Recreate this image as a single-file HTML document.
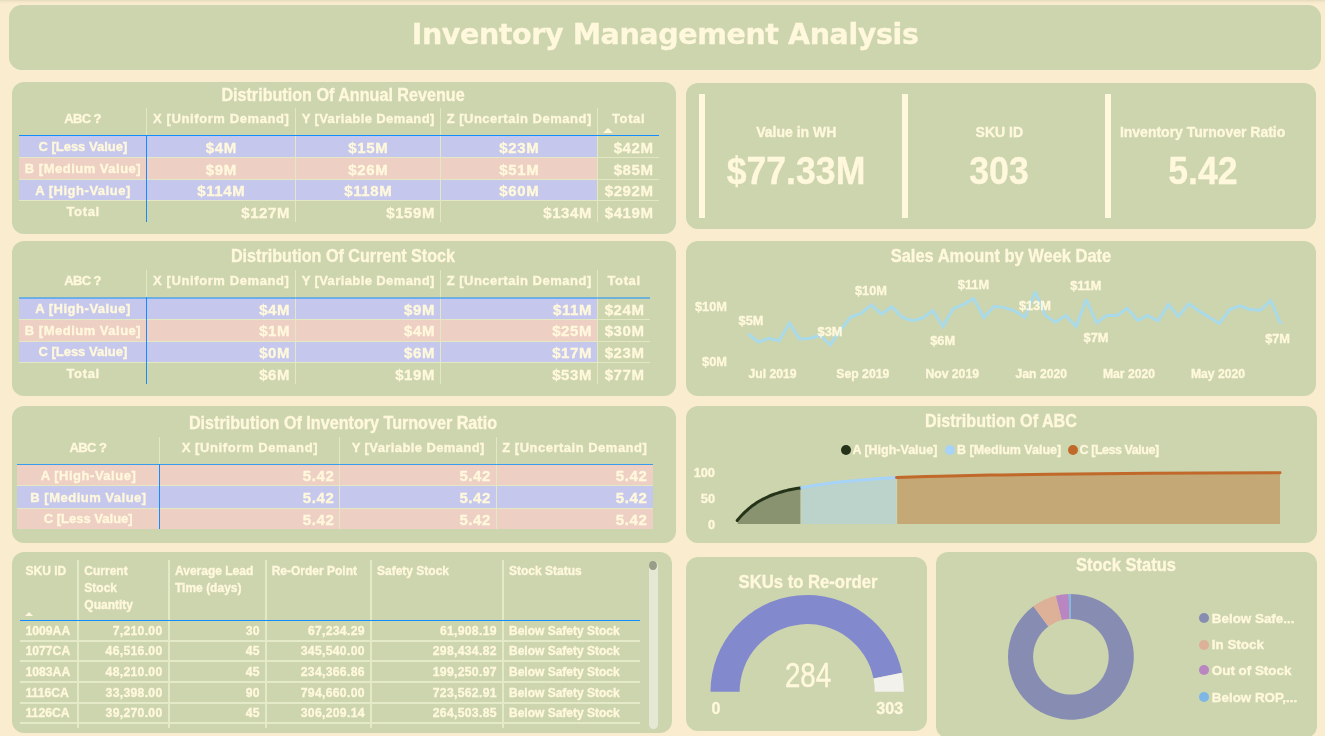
<!DOCTYPE html>
<html><head><meta charset="utf-8">
<style>
*{margin:0;padding:0;box-sizing:border-box}
html,body{width:1325px;height:736px;overflow:hidden;background:#FAEDCF}
body{position:relative;font-family:"Liberation Sans",Arial,sans-serif;color:#FFF8DC;font-weight:bold}
.p{position:absolute;background:#CDD5AE;border-radius:12px}
.ab{position:absolute}
.t{position:absolute;white-space:nowrap;line-height:1;-webkit-text-stroke:0.35px #FFF8DC}
svg{position:absolute;left:0;top:0;overflow:visible}
</style></head><body>

<div class="ab" style="left:0;top:0;width:1325px;height:4px;background:linear-gradient(#E8DEBF 0px,#E9DFC0 1px,#F1E5C5 1.5px,#F6E9CA 2.5px,#FAEDCF 4px)"></div>
<div class="p" style="left:9.2px;top:4.9px;width:1312px;height:64.8px;border-radius:12.5px"></div>
<div class="t" style="left:411.7px;top:20.6px;font-family:'DejaVu Sans',sans-serif;font-size:28.5px;letter-spacing:-0.39px">Inventory Management Analysis</div>
<div class="p" style="left:12px;top:82px;width:663.6px;height:151.6px"></div>
<div class="p" style="left:12px;top:241px;width:663.5px;height:154.8px"></div>
<div class="p" style="left:12px;top:406px;width:663.5px;height:137px"></div>
<div class="p" style="left:12px;top:552.3px;width:660.2px;height:181px"></div>
<div class="p" style="left:685.5px;top:83.3px;width:630.5px;height:146.2px"></div>
<div class="p" style="left:685.5px;top:241.3px;width:630.5px;height:154.5px"></div>
<div class="p" style="left:685.5px;top:406px;width:631.4px;height:137px"></div>
<div class="p" style="left:685.7px;top:556.7px;width:241.1px;height:174.8px"></div>
<div class="p" style="left:936px;top:552.3px;width:381.4px;height:185.3px"></div>
<div class="t" style="left:143.2px;width:400px;text-align:center;top:86.5px;font-size:17.5px;transform:scaleX(0.922)">Distribution Of Annual Revenue</div>
<div class="ab" style="left:146.00px;top:108.00px;width:1.00px;height:27.00px;background:#E3E7C2;"></div>
<div class="ab" style="left:295.00px;top:108.00px;width:1.00px;height:27.00px;background:#E3E7C2;"></div>
<div class="ab" style="left:440.00px;top:108.00px;width:1.00px;height:27.00px;background:#E3E7C2;"></div>
<div class="ab" style="left:597.00px;top:108.00px;width:1.00px;height:27.00px;background:#E3E7C2;"></div>
<div class="ab" style="left:19.00px;top:136.00px;width:578.50px;height:21.00px;background:#C5C8EC;"></div>
<div class="ab" style="left:19.00px;top:157.00px;width:578.50px;height:22.50px;background:#EECFC3;"></div>
<div class="ab" style="left:19.00px;top:179.50px;width:578.50px;height:21.20px;background:#C5C8EC;"></div>
<div class="ab" style="left:295.00px;top:135.00px;width:1.00px;height:87.00px;background:#E3E7C2;"></div>
<div class="ab" style="left:440.00px;top:135.00px;width:1.00px;height:87.00px;background:#E3E7C2;"></div>
<div class="ab" style="left:597.00px;top:135.00px;width:1.00px;height:87.00px;background:#E3E7C2;"></div>
<div class="ab" style="left:19.00px;top:156.50px;width:640.00px;height:1.00px;background:#E3E7C2;"></div>
<div class="ab" style="left:19.00px;top:179.00px;width:640.00px;height:1.00px;background:#E3E7C2;"></div>
<div class="ab" style="left:19.00px;top:200.20px;width:640.00px;height:1.00px;background:#E3E7C2;"></div>
<div class="ab" style="left:19.00px;top:135.00px;width:640.00px;height:1.00px;background:#118DFF;"></div>
<div class="ab" style="left:145.90px;top:135.00px;width:1.20px;height:87.00px;background:#118DFF;"></div>
<div class="t" style="left:-67.5px;width:300px;text-align:center;top:111.9px;font-size:13px;letter-spacing:-0.6px;">ABC ?</div>
<div class="t" style="left:71.3px;width:300px;text-align:center;top:111.9px;font-size:13px;letter-spacing:0.6px;">X [Uniform Demand]</div>
<div class="t" style="left:218.2px;width:300px;text-align:center;top:111.9px;font-size:13px;letter-spacing:0.4px;">Y [Variable Demand]</div>
<div class="t" style="left:369.2px;width:300px;text-align:center;top:111.9px;font-size:13px;letter-spacing:0.5px;">Z [Uncertain Demand]</div>
<div class="t" style="left:478.6px;width:300px;text-align:center;top:111.9px;font-size:13px;letter-spacing:0.65px;">Total</div>
<div class="t" style="left:-67.2px;width:300px;text-align:center;top:140.1px;font-size:13px;">C [Less Value]</div>
<div class="t" style="left:71.3px;width:300px;text-align:center;top:139.8px;font-size:15px;letter-spacing:0.6px;">$4M</div>
<div class="t" style="left:218.3px;width:300px;text-align:center;top:139.8px;font-size:15px;letter-spacing:0.6px;">$15M</div>
<div class="t" style="left:369.3px;width:300px;text-align:center;top:139.8px;font-size:15px;letter-spacing:0.6px;">$23M</div>
<div class="t" style="left:353.6px;width:300px;text-align:right;top:139.8px;font-size:15px;letter-spacing:0.6px;">$42M</div>
<div class="t" style="left:-67.0px;width:300px;text-align:center;top:161.9px;font-size:13px;letter-spacing:0.5px;">B [Medium Value]</div>
<div class="t" style="left:71.3px;width:300px;text-align:center;top:161.5px;font-size:15px;letter-spacing:0.6px;">$9M</div>
<div class="t" style="left:218.3px;width:300px;text-align:center;top:161.5px;font-size:15px;letter-spacing:0.6px;">$26M</div>
<div class="t" style="left:369.3px;width:300px;text-align:center;top:161.5px;font-size:15px;letter-spacing:0.6px;">$51M</div>
<div class="t" style="left:353.6px;width:300px;text-align:right;top:161.5px;font-size:15px;letter-spacing:0.6px;">$85M</div>
<div class="t" style="left:-67.0px;width:300px;text-align:center;top:183.7px;font-size:13px;letter-spacing:0.52px;">A [High-Value]</div>
<div class="t" style="left:71.3px;width:300px;text-align:center;top:183.4px;font-size:15px;letter-spacing:0.6px;">$114M</div>
<div class="t" style="left:218.3px;width:300px;text-align:center;top:183.4px;font-size:15px;letter-spacing:0.6px;">$118M</div>
<div class="t" style="left:369.3px;width:300px;text-align:center;top:183.4px;font-size:15px;letter-spacing:0.6px;">$60M</div>
<div class="t" style="left:353.6px;width:300px;text-align:right;top:183.4px;font-size:15px;letter-spacing:0.6px;">$292M</div>
<div class="t" style="left:-66.9px;width:300px;text-align:center;top:205.0px;font-size:13px;letter-spacing:0.65px;">Total</div>
<div class="t" style="left:-9.9px;width:300px;text-align:right;top:204.6px;font-size:15px;letter-spacing:0.6px;">$127M</div>
<div class="t" style="left:135.1px;width:300px;text-align:right;top:204.6px;font-size:15px;letter-spacing:0.6px;">$159M</div>
<div class="t" style="left:292.1px;width:300px;text-align:right;top:204.6px;font-size:15px;letter-spacing:0.6px;">$134M</div>
<div class="t" style="left:353.6px;width:300px;text-align:right;top:204.6px;font-size:15px;letter-spacing:0.6px;">$419M</div>
<div class="ab" style="left:602.8px;top:128.1px;width:0;height:0;border-left:5.5px solid transparent;border-right:5.5px solid transparent;border-bottom:5.5px solid #FFF8DC"></div>
<div class="t" style="left:143.2px;width:400px;text-align:center;top:248.3px;font-size:17.5px;transform:scaleX(0.922)">Distribution Of Current Stock</div>
<div class="ab" style="left:146.00px;top:270.00px;width:1.00px;height:27.00px;background:#E3E7C2;"></div>
<div class="ab" style="left:295.00px;top:270.00px;width:1.00px;height:27.00px;background:#E3E7C2;"></div>
<div class="ab" style="left:440.00px;top:270.00px;width:1.00px;height:27.00px;background:#E3E7C2;"></div>
<div class="ab" style="left:597.00px;top:270.00px;width:1.00px;height:27.00px;background:#E3E7C2;"></div>
<div class="ab" style="left:19.00px;top:298.00px;width:578.50px;height:21.00px;background:#C5C8EC;"></div>
<div class="ab" style="left:19.00px;top:319.00px;width:578.50px;height:22.00px;background:#EECFC3;"></div>
<div class="ab" style="left:19.00px;top:341.00px;width:578.50px;height:21.50px;background:#C5C8EC;"></div>
<div class="ab" style="left:295.00px;top:297.00px;width:1.00px;height:87.00px;background:#E3E7C2;"></div>
<div class="ab" style="left:440.00px;top:297.00px;width:1.00px;height:87.00px;background:#E3E7C2;"></div>
<div class="ab" style="left:597.00px;top:297.00px;width:1.00px;height:87.00px;background:#E3E7C2;"></div>
<div class="ab" style="left:19.00px;top:318.50px;width:631.00px;height:1.00px;background:#E3E7C2;"></div>
<div class="ab" style="left:19.00px;top:340.50px;width:631.00px;height:1.00px;background:#E3E7C2;"></div>
<div class="ab" style="left:19.00px;top:362.00px;width:631.00px;height:1.00px;background:#E3E7C2;"></div>
<div class="ab" style="left:19.00px;top:297.00px;width:631.00px;height:2.00px;background:rgba(17,141,255,0.5);"></div>
<div class="ab" style="left:145.90px;top:297.00px;width:1.20px;height:87.00px;background:#118DFF;"></div>
<div class="t" style="left:-67.5px;width:300px;text-align:center;top:274.3px;font-size:13px;letter-spacing:-0.6px;">ABC ?</div>
<div class="t" style="left:71.3px;width:300px;text-align:center;top:274.3px;font-size:13px;letter-spacing:0.6px;">X [Uniform Demand]</div>
<div class="t" style="left:218.2px;width:300px;text-align:center;top:274.3px;font-size:13px;letter-spacing:0.4px;">Y [Variable Demand]</div>
<div class="t" style="left:369.2px;width:300px;text-align:center;top:274.3px;font-size:13px;letter-spacing:0.5px;">Z [Uncertain Demand]</div>
<div class="t" style="left:474.1px;width:300px;text-align:center;top:274.3px;font-size:13px;letter-spacing:0.65px;">Total</div>
<div class="t" style="left:-67.0px;width:300px;text-align:center;top:302.1px;font-size:13px;letter-spacing:0.52px;">A [High-Value]</div>
<div class="t" style="left:-9.9px;width:300px;text-align:right;top:301.8px;font-size:15px;letter-spacing:0.6px;">$4M</div>
<div class="t" style="left:135.1px;width:300px;text-align:right;top:301.8px;font-size:15px;letter-spacing:0.6px;">$9M</div>
<div class="t" style="left:292.1px;width:300px;text-align:right;top:301.8px;font-size:15px;letter-spacing:0.6px;">$11M</div>
<div class="t" style="left:344.6px;width:300px;text-align:right;top:301.8px;font-size:15px;letter-spacing:0.6px;">$24M</div>
<div class="t" style="left:-67.0px;width:300px;text-align:center;top:323.6px;font-size:13px;letter-spacing:0.5px;">B [Medium Value]</div>
<div class="t" style="left:-9.9px;width:300px;text-align:right;top:323.3px;font-size:15px;letter-spacing:0.6px;">$1M</div>
<div class="t" style="left:135.1px;width:300px;text-align:right;top:323.3px;font-size:15px;letter-spacing:0.6px;">$4M</div>
<div class="t" style="left:292.1px;width:300px;text-align:right;top:323.3px;font-size:15px;letter-spacing:0.6px;">$25M</div>
<div class="t" style="left:344.6px;width:300px;text-align:right;top:323.3px;font-size:15px;letter-spacing:0.6px;">$30M</div>
<div class="t" style="left:-67.2px;width:300px;text-align:center;top:345.4px;font-size:13px;">C [Less Value]</div>
<div class="t" style="left:-9.9px;width:300px;text-align:right;top:345.0px;font-size:15px;letter-spacing:0.6px;">$0M</div>
<div class="t" style="left:135.1px;width:300px;text-align:right;top:345.0px;font-size:15px;letter-spacing:0.6px;">$6M</div>
<div class="t" style="left:292.1px;width:300px;text-align:right;top:345.0px;font-size:15px;letter-spacing:0.6px;">$17M</div>
<div class="t" style="left:344.6px;width:300px;text-align:right;top:345.0px;font-size:15px;letter-spacing:0.6px;">$23M</div>
<div class="t" style="left:-66.9px;width:300px;text-align:center;top:366.9px;font-size:13px;letter-spacing:0.65px;">Total</div>
<div class="t" style="left:-9.9px;width:300px;text-align:right;top:366.5px;font-size:15px;letter-spacing:0.6px;">$6M</div>
<div class="t" style="left:135.1px;width:300px;text-align:right;top:366.5px;font-size:15px;letter-spacing:0.6px;">$19M</div>
<div class="t" style="left:292.1px;width:300px;text-align:right;top:366.5px;font-size:15px;letter-spacing:0.6px;">$53M</div>
<div class="t" style="left:344.6px;width:300px;text-align:right;top:366.5px;font-size:15px;letter-spacing:0.6px;">$77M</div>
<div class="t" style="left:143.2px;width:400px;text-align:center;top:414.8px;font-size:17.5px;transform:scaleX(0.922)">Distribution Of Inventory Turnover Ratio</div>
<div class="ab" style="left:158.90px;top:437.00px;width:1.00px;height:26.90px;background:#E3E7C2;"></div>
<div class="ab" style="left:339.30px;top:437.00px;width:1.00px;height:26.90px;background:#E3E7C2;"></div>
<div class="ab" style="left:495.90px;top:437.00px;width:1.00px;height:26.90px;background:#E3E7C2;"></div>
<div class="ab" style="left:17.00px;top:464.50px;width:635.80px;height:21.00px;background:#EECFC3;"></div>
<div class="ab" style="left:17.00px;top:485.50px;width:635.80px;height:22.80px;background:#C5C8EC;"></div>
<div class="ab" style="left:17.00px;top:508.30px;width:635.80px;height:20.90px;background:#EECFC3;"></div>
<div class="ab" style="left:339.30px;top:463.90px;width:1.00px;height:65.30px;background:#E3E7C2;"></div>
<div class="ab" style="left:495.90px;top:463.90px;width:1.00px;height:65.30px;background:#E3E7C2;"></div>
<div class="ab" style="left:17.00px;top:485.00px;width:635.80px;height:1.00px;background:#E3E7C2;"></div>
<div class="ab" style="left:17.00px;top:507.80px;width:635.80px;height:1.00px;background:#E3E7C2;"></div>
<div class="ab" style="left:17.00px;top:463.90px;width:635.80px;height:1.20px;background:rgba(17,141,255,0.8);"></div>
<div class="ab" style="left:158.80px;top:463.90px;width:1.20px;height:65.30px;background:#118DFF;"></div>
<div class="t" style="left:-62.1px;width:300px;text-align:center;top:441.1px;font-size:13px;letter-spacing:-0.6px;">ABC ?</div>
<div class="t" style="left:99.9px;width:300px;text-align:center;top:441.1px;font-size:13px;letter-spacing:0.6px;">X [Uniform Demand]</div>
<div class="t" style="left:268.3px;width:300px;text-align:center;top:441.1px;font-size:13px;letter-spacing:0.4px;">Y [Variable Demand]</div>
<div class="t" style="left:424.8px;width:300px;text-align:center;top:441.1px;font-size:13px;letter-spacing:0.5px;">Z [Uncertain Demand]</div>
<div class="t" style="left:-61.5px;width:300px;text-align:center;top:468.6px;font-size:13px;letter-spacing:0.52px;">A [High-Value]</div>
<div class="t" style="left:34.4px;width:300px;text-align:right;top:468.3px;font-size:15px;letter-spacing:0.6px;">5.42</div>
<div class="t" style="left:191.0px;width:300px;text-align:right;top:468.3px;font-size:15px;letter-spacing:0.6px;">5.42</div>
<div class="t" style="left:347.4px;width:300px;text-align:right;top:468.3px;font-size:15px;letter-spacing:0.6px;">5.42</div>
<div class="t" style="left:-61.5px;width:300px;text-align:center;top:490.5px;font-size:13px;letter-spacing:0.5px;">B [Medium Value]</div>
<div class="t" style="left:34.4px;width:300px;text-align:right;top:490.2px;font-size:15px;letter-spacing:0.6px;">5.42</div>
<div class="t" style="left:191.0px;width:300px;text-align:right;top:490.2px;font-size:15px;letter-spacing:0.6px;">5.42</div>
<div class="t" style="left:347.4px;width:300px;text-align:right;top:490.2px;font-size:15px;letter-spacing:0.6px;">5.42</div>
<div class="t" style="left:-61.8px;width:300px;text-align:center;top:512.4px;font-size:13px;">C [Less Value]</div>
<div class="t" style="left:34.4px;width:300px;text-align:right;top:512.0px;font-size:15px;letter-spacing:0.6px;">5.42</div>
<div class="t" style="left:191.0px;width:300px;text-align:right;top:512.0px;font-size:15px;letter-spacing:0.6px;">5.42</div>
<div class="t" style="left:347.4px;width:300px;text-align:right;top:512.0px;font-size:15px;letter-spacing:0.6px;">5.42</div>
<div class="ab" style="left:77.00px;top:560.00px;width:2.00px;height:168.00px;background:#E4E9C7;"></div>
<div class="ab" style="left:167.70px;top:560.00px;width:2.00px;height:168.00px;background:#E4E9C7;"></div>
<div class="ab" style="left:265.00px;top:560.00px;width:2.00px;height:168.00px;background:#E4E9C7;"></div>
<div class="ab" style="left:370.00px;top:560.00px;width:2.00px;height:168.00px;background:#E4E9C7;"></div>
<div class="ab" style="left:502.00px;top:560.00px;width:2.00px;height:168.00px;background:#E4E9C7;"></div>
<div class="ab" style="left:20.00px;top:639.80px;width:620.00px;height:2.00px;background:#E4E9C7;"></div>
<div class="ab" style="left:20.00px;top:660.40px;width:620.00px;height:2.00px;background:#E4E9C7;"></div>
<div class="ab" style="left:20.00px;top:681.00px;width:620.00px;height:2.00px;background:#E4E9C7;"></div>
<div class="ab" style="left:20.00px;top:701.60px;width:620.00px;height:2.00px;background:#E4E9C7;"></div>
<div class="ab" style="left:20.00px;top:722.30px;width:620.00px;height:2.00px;background:#E4E9C7;"></div>
<div class="ab" style="left:20.00px;top:620.00px;width:620.00px;height:1.30px;background:#118DFF;"></div>
<div class="t" style="left:25.5px;top:565.3px;font-size:12px;">SKU ID</div>
<div class="t" style="left:84.3px;top:565.3px;font-size:12px;">Current</div>
<div class="t" style="left:84.3px;top:582.3px;font-size:12px;">Stock</div>
<div class="t" style="left:84.3px;top:599.3px;font-size:12px;">Quantity</div>
<div class="t" style="left:175.0px;top:565.3px;font-size:12px;">Average Lead</div>
<div class="t" style="left:175.0px;top:582.3px;font-size:12px;">Time (days)</div>
<div class="t" style="left:271.7px;top:565.3px;font-size:12px;">Re-Order Point</div>
<div class="t" style="left:377.0px;top:565.3px;font-size:12px;">Safety Stock</div>
<div class="t" style="left:509.0px;top:565.3px;font-size:12px;">Stock Status</div>
<div class="ab" style="left:25.4px;top:612.0px;width:0;height:0;border-left:4.0px solid transparent;border-right:4.0px solid transparent;border-bottom:4px solid #FFF8DC"></div>
<div class="t" style="left:25.5px;top:624.9px;font-size:12.2px;">1009AA</div>
<div class="t" style="left:-137.5px;width:300px;text-align:right;top:624.9px;font-size:12.2px;letter-spacing:0.3px;">7,210.00</div>
<div class="t" style="left:-40.2px;width:300px;text-align:right;top:624.9px;font-size:12.2px;letter-spacing:0.3px;">30</div>
<div class="t" style="left:64.8px;width:300px;text-align:right;top:624.9px;font-size:12.2px;letter-spacing:0.3px;">67,234.29</div>
<div class="t" style="left:196.8px;width:300px;text-align:right;top:624.9px;font-size:12.2px;letter-spacing:0.3px;">61,908.19</div>
<div class="t" style="left:509.0px;top:625.0px;font-size:12px;">Below Safety Stock</div>
<div class="t" style="left:25.5px;top:645.3px;font-size:12.2px;">1077CA</div>
<div class="t" style="left:-137.5px;width:300px;text-align:right;top:645.3px;font-size:12.2px;letter-spacing:0.3px;">46,516.00</div>
<div class="t" style="left:-40.2px;width:300px;text-align:right;top:645.3px;font-size:12.2px;letter-spacing:0.3px;">45</div>
<div class="t" style="left:64.8px;width:300px;text-align:right;top:645.3px;font-size:12.2px;letter-spacing:0.3px;">345,540.00</div>
<div class="t" style="left:196.8px;width:300px;text-align:right;top:645.3px;font-size:12.2px;letter-spacing:0.3px;">298,434.82</div>
<div class="t" style="left:509.0px;top:645.4px;font-size:12px;">Below Safety Stock</div>
<div class="t" style="left:25.5px;top:665.9px;font-size:12.2px;">1083AA</div>
<div class="t" style="left:-137.5px;width:300px;text-align:right;top:665.9px;font-size:12.2px;letter-spacing:0.3px;">48,210.00</div>
<div class="t" style="left:-40.2px;width:300px;text-align:right;top:665.9px;font-size:12.2px;letter-spacing:0.3px;">45</div>
<div class="t" style="left:64.8px;width:300px;text-align:right;top:665.9px;font-size:12.2px;letter-spacing:0.3px;">234,366.86</div>
<div class="t" style="left:196.8px;width:300px;text-align:right;top:665.9px;font-size:12.2px;letter-spacing:0.3px;">199,250.97</div>
<div class="t" style="left:509.0px;top:666.0px;font-size:12px;">Below Safety Stock</div>
<div class="t" style="left:25.5px;top:686.5px;font-size:12.2px;">1116CA</div>
<div class="t" style="left:-137.5px;width:300px;text-align:right;top:686.5px;font-size:12.2px;letter-spacing:0.3px;">33,398.00</div>
<div class="t" style="left:-40.2px;width:300px;text-align:right;top:686.5px;font-size:12.2px;letter-spacing:0.3px;">90</div>
<div class="t" style="left:64.8px;width:300px;text-align:right;top:686.5px;font-size:12.2px;letter-spacing:0.3px;">794,660.00</div>
<div class="t" style="left:196.8px;width:300px;text-align:right;top:686.5px;font-size:12.2px;letter-spacing:0.3px;">723,562.91</div>
<div class="t" style="left:509.0px;top:686.6px;font-size:12px;">Below Safety Stock</div>
<div class="t" style="left:25.5px;top:707.2px;font-size:12.2px;">1126CA</div>
<div class="t" style="left:-137.5px;width:300px;text-align:right;top:707.2px;font-size:12.2px;letter-spacing:0.3px;">39,270.00</div>
<div class="t" style="left:-40.2px;width:300px;text-align:right;top:707.2px;font-size:12.2px;letter-spacing:0.3px;">45</div>
<div class="t" style="left:64.8px;width:300px;text-align:right;top:707.2px;font-size:12.2px;letter-spacing:0.3px;">306,209.14</div>
<div class="t" style="left:196.8px;width:300px;text-align:right;top:707.2px;font-size:12.2px;letter-spacing:0.3px;">264,503.85</div>
<div class="t" style="left:509.0px;top:707.3px;font-size:12px;">Below Safety Stock</div>
<div class="ab" style="left:648.80px;top:560.50px;width:8.80px;height:168.00px;background:#E4E8D4;border-radius:4.4px"></div>
<div class="ab" style="left:649.40px;top:561.10px;width:7.80px;height:9.40px;background:#979D86;border-radius:50%"></div>
<div class="ab" style="left:699.00px;top:94.00px;width:6.00px;height:123.60px;background:#FFF8DC;"></div>
<div class="ab" style="left:902.00px;top:94.00px;width:6.00px;height:123.60px;background:#FFF8DC;"></div>
<div class="ab" style="left:1105.00px;top:94.00px;width:6.00px;height:123.60px;background:#FFF8DC;"></div>
<div class="t" style="left:646.3px;width:300px;text-align:center;top:125.2px;font-size:14px;">Value in WH</div>
<div class="t" style="left:646.3px;width:300px;text-align:center;top:150.9px;font-size:39.4px;transform:scaleX(0.905)">$77.33M</div>
<div class="t" style="left:849.3px;width:300px;text-align:center;top:125.2px;font-size:14px;">SKU ID</div>
<div class="t" style="left:849.3px;width:300px;text-align:center;top:150.9px;font-size:39.4px;transform:scaleX(0.905)">303</div>
<div class="t" style="left:1052.6px;width:300px;text-align:center;top:125.2px;font-size:14px;">Inventory Turnover Ratio</div>
<div class="t" style="left:1052.6px;width:300px;text-align:center;top:150.9px;font-size:39.4px;transform:scaleX(0.905)">5.42</div>
<div class="t" style="left:801.3px;width:400px;text-align:center;top:248.3px;font-size:17.5px;transform:scaleX(0.941)">Sales Amount by Week Date</div>
<svg width="1325" height="736"><polyline points="748.4,334.0 758.6,342.0 768.9,338.4 779.1,340.8 789.4,323.2 799.6,338.9 809.8,338.4 820.1,335.2 830.3,344.9 840.6,329.7 850.8,317.1 861.0,313.5 871.3,305.0 881.5,314.0 891.8,306.7 902.0,317.1 912.2,320.7 922.5,318.3 932.7,310.6 943.0,326.3 953.2,308.7 963.4,304.6 973.7,298.5 983.9,317.6 994.2,306.3 1004.4,307.6 1014.7,310.9 1024.9,317.2 1035.1,291.9 1045.4,315.4 1055.6,322.2 1065.9,315.4 1076.1,326.5 1086.3,299.5 1096.6,323.0 1106.8,315.4 1117.1,315.4 1127.3,308.3 1137.5,320.5 1147.8,315.4 1158.0,321.0 1168.3,304.5 1178.5,316.4 1188.7,303.8 1199.0,310.9 1209.2,317.2 1219.5,323.5 1229.7,309.6 1239.9,305.8 1250.2,309.6 1260.4,310.3 1270.7,300.7 1280.9,324.0" fill="none" stroke="#A9DAEA" stroke-width="3" stroke-linejoin="miter" stroke-miterlimit="2"/></svg>
<div class="t" style="left:601.0px;width:300px;text-align:center;top:315.2px;font-size:12.8px;">$5M</div>
<div class="t" style="left:680.0px;width:300px;text-align:center;top:325.5px;font-size:12.8px;">$3M</div>
<div class="t" style="left:721.0px;width:300px;text-align:center;top:285.1px;font-size:12.8px;">$10M</div>
<div class="t" style="left:792.7px;width:300px;text-align:center;top:335.0px;font-size:12.8px;">$6M</div>
<div class="t" style="left:823.5px;width:300px;text-align:center;top:279.0px;font-size:12.8px;">$11M</div>
<div class="t" style="left:884.9px;width:300px;text-align:center;top:300.3px;font-size:12.8px;">$13M</div>
<div class="t" style="left:935.8px;width:300px;text-align:center;top:280.1px;font-size:12.8px;">$11M</div>
<div class="t" style="left:946.0px;width:300px;text-align:center;top:331.9px;font-size:12.8px;">$7M</div>
<div class="t" style="left:1127.6px;width:300px;text-align:center;top:332.7px;font-size:12.8px;">$7M</div>
<div class="t" style="left:427.0px;width:300px;text-align:right;top:301.2px;font-size:12.8px;">$10M</div>
<div class="t" style="left:427.0px;width:300px;text-align:right;top:355.5px;font-size:12.8px;">$0M</div>
<div class="t" style="left:622.5px;width:300px;text-align:center;top:367.5px;font-size:12.2px;">Jul 2019</div>
<div class="t" style="left:712.8px;width:300px;text-align:center;top:367.5px;font-size:12.2px;">Sep 2019</div>
<div class="t" style="left:802.2px;width:300px;text-align:center;top:367.5px;font-size:12.2px;">Nov 2019</div>
<div class="t" style="left:891.3px;width:300px;text-align:center;top:367.5px;font-size:12.2px;">Jan 2020</div>
<div class="t" style="left:979.0px;width:300px;text-align:center;top:367.5px;font-size:12.2px;">Mar 2020</div>
<div class="t" style="left:1068.0px;width:300px;text-align:center;top:367.5px;font-size:12.2px;">May 2020</div>
<div class="t" style="left:800.6px;width:400px;text-align:center;top:412.8px;font-size:17.5px;transform:scaleX(0.922)">Distribution Of ABC</div>
<div class="ab" style="left:840.5px;top:444.8px;width:10.4px;height:10.4px;border-radius:50%;background:#253318"></div>
<div class="t" style="left:852.4px;top:443.9px;font-size:12.5px;">A [High-Value]</div>
<div class="ab" style="left:944.8px;top:444.8px;width:10.4px;height:10.4px;border-radius:50%;background:#A6D3F7"></div>
<div class="t" style="left:957.0px;top:443.9px;font-size:12.5px;">B [Medium Value]</div>
<div class="ab" style="left:1067.8px;top:444.8px;width:10.4px;height:10.4px;border-radius:50%;background:#C1692B"></div>
<div class="t" style="left:1079.6px;top:443.9px;font-size:12.5px;letter-spacing:-0.45px;">C [Less Value]</div>
<div class="t" style="left:415.0px;width:300px;text-align:right;top:467.0px;font-size:12.8px;">100</div>
<div class="t" style="left:415.0px;width:300px;text-align:right;top:493.1px;font-size:12.8px;">50</div>
<div class="t" style="left:415.0px;width:300px;text-align:right;top:519.4px;font-size:12.8px;">0</div>
<svg width="1325" height="736"><path d="M737.20,520.50 C737.64,519.98 738.96,518.38 739.83,517.38 C740.71,516.39 741.59,515.44 742.47,514.53 C743.34,513.61 744.22,512.75 745.10,511.91 C745.98,511.08 746.86,510.28 747.73,509.51 C748.61,508.75 749.49,508.02 750.37,507.32 C751.24,506.62 752.12,505.95 753.00,505.31 C753.88,504.67 754.76,504.06 755.63,503.47 C756.51,502.88 757.39,502.32 758.27,501.78 C759.14,501.24 760.02,500.73 760.90,500.24 C761.78,499.74 762.66,499.27 763.53,498.82 C764.41,498.37 765.29,497.94 766.17,497.53 C767.04,497.11 767.92,496.72 768.80,496.34 C769.68,495.96 770.56,495.60 771.43,495.25 C772.31,494.90 773.19,494.57 774.07,494.26 C774.94,493.94 775.82,493.64 776.70,493.34 C777.58,493.05 778.46,492.78 779.33,492.51 C780.21,492.24 781.09,491.99 781.97,491.74 C782.84,491.50 783.72,491.27 784.60,491.04 C785.48,490.82 786.36,490.60 787.23,490.40 C788.11,490.19 788.99,490.00 789.87,489.81 C790.74,489.62 791.62,489.44 792.50,489.27 C793.38,489.10 794.26,488.94 795.13,488.78 C796.01,488.62 796.89,488.47 797.77,488.33 C798.64,488.18 799.96,487.98 800.40,487.91 L800.4,524 L737.9,524 Z" fill="#899370"/><path d="M801.40,487.70 C804.52,487.15 812.45,485.48 820.10,484.40 C827.75,483.32 838.23,482.10 847.30,481.20 C856.37,480.30 866.38,479.63 874.50,479.00 C882.62,478.37 892.42,477.67 896.00,477.40 L896,524 L801.4,524 Z" fill="#BBD3CB"/><path d="M897.20,477.40 C904.33,477.20 924.53,476.58 940.00,476.20 C955.47,475.82 971.67,475.43 990.00,475.10 C1008.33,474.77 1023.33,474.50 1050.00,474.20 C1076.67,473.90 1111.67,473.53 1150.00,473.30 C1188.33,473.07 1258.33,472.88 1280.00,472.80 L1280,524 L897.2,524 Z" fill="#C4A875"/><path d="M737.20,520.50 C737.64,519.98 738.96,518.38 739.83,517.38 C740.71,516.39 741.59,515.44 742.47,514.53 C743.34,513.61 744.22,512.75 745.10,511.91 C745.98,511.08 746.86,510.28 747.73,509.51 C748.61,508.75 749.49,508.02 750.37,507.32 C751.24,506.62 752.12,505.95 753.00,505.31 C753.88,504.67 754.76,504.06 755.63,503.47 C756.51,502.88 757.39,502.32 758.27,501.78 C759.14,501.24 760.02,500.73 760.90,500.24 C761.78,499.74 762.66,499.27 763.53,498.82 C764.41,498.37 765.29,497.94 766.17,497.53 C767.04,497.11 767.92,496.72 768.80,496.34 C769.68,495.96 770.56,495.60 771.43,495.25 C772.31,494.90 773.19,494.57 774.07,494.26 C774.94,493.94 775.82,493.64 776.70,493.34 C777.58,493.05 778.46,492.78 779.33,492.51 C780.21,492.24 781.09,491.99 781.97,491.74 C782.84,491.50 783.72,491.27 784.60,491.04 C785.48,490.82 786.36,490.60 787.23,490.40 C788.11,490.19 788.99,490.00 789.87,489.81 C790.74,489.62 791.62,489.44 792.50,489.27 C793.38,489.10 794.26,488.94 795.13,488.78 C796.01,488.62 796.89,488.47 797.77,488.33 C798.64,488.18 799.96,487.98 800.40,487.91" fill="none" stroke="#253318" stroke-width="3" stroke-linecap="round"/><path d="M800.40,487.90 C803.68,487.32 812.28,485.52 820.10,484.40 C827.92,483.28 838.23,482.10 847.30,481.20 C856.37,480.30 866.30,479.63 874.50,479.00 C882.70,478.37 892.83,477.67 896.50,477.40" fill="none" stroke="#A6D3F7" stroke-width="3"/><path d="M896.50,477.40 C903.75,477.20 924.42,476.58 940.00,476.20 C955.58,475.82 971.67,475.43 990.00,475.10 C1008.33,474.77 1023.33,474.50 1050.00,474.20 C1076.67,473.90 1111.67,473.53 1150.00,473.30 C1188.33,473.07 1258.33,472.88 1280.00,472.80" fill="none" stroke="#C1692B" stroke-width="3" stroke-linecap="round"/></svg>
<div class="t" style="left:607.7px;width:400px;text-align:center;top:574.1px;font-size:17.5px;transform:scaleX(0.952)">SKUs to Re-order</div>
<svg width="1325" height="736"><path d="M710.50,691.7 A96.7,96.7 0 0 1 902.03,672.77 L873.49,678.47 A67.6,67.6 0 0 0 739.60,691.7 Z" fill="#8389CD"/><path d="M902.03,672.77 A96.7,96.7 0 0 1 903.90,691.7 L874.80,691.7 A67.6,67.6 0 0 0 873.49,678.47 Z" fill="#F2F1EC"/></svg>
<div class="t" style="left:707.8px;width:200px;text-align:center;top:657.6px;font-size:35.5px;font-weight:normal;-webkit-text-stroke:0.45px #FFF8DC;transform:scaleX(0.78)">284</div>
<div class="t" style="left:566.0px;width:300px;text-align:center;top:701.0px;font-size:16px;">0</div>
<div class="t" style="left:739.7px;width:300px;text-align:center;top:701.0px;font-size:16px;">303</div>
<div class="t" style="left:925.5px;width:400px;text-align:center;top:557.2px;font-size:17.5px;transform:scaleX(0.943)">Stock Status</div>
<svg width="1325" height="736"><path d="M1070.90,593.90 A62.9,62.9 0 1 1 1033.40,606.30 L1048.36,626.45 A37.8,37.8 0 1 0 1070.90,619.00 Z" fill="#878CB3"/><path d="M1033.40,606.30 A62.9,62.9 0 0 1 1055.79,595.74 L1061.82,620.11 A37.8,37.8 0 0 0 1048.36,626.45 Z" fill="#DDB098"/><path d="M1055.79,595.74 A62.9,62.9 0 0 1 1068.70,593.94 L1069.58,619.02 A37.8,37.8 0 0 0 1061.82,620.11 Z" fill="#B986C2"/><path d="M1068.70,593.94 A62.9,62.9 0 0 1 1070.90,593.90 L1070.90,619.00 A37.8,37.8 0 0 0 1069.58,619.02 Z" fill="#7DB7E6"/></svg>
<div class="ab" style="left:1199.0px;top:613.1px;width:10px;height:10px;border-radius:50%;background:#878CB3"></div>
<div class="t" style="left:1211.8px;top:611.8px;font-size:13.4px;">Below Safe...</div>
<div class="ab" style="left:1199.0px;top:639.7px;width:10px;height:10px;border-radius:50%;background:#DDB098"></div>
<div class="t" style="left:1211.8px;top:638.4px;font-size:13.4px;">In Stock</div>
<div class="ab" style="left:1199.0px;top:665.3px;width:10px;height:10px;border-radius:50%;background:#B986C2"></div>
<div class="t" style="left:1211.8px;top:664.0px;font-size:13.4px;">Out of Stock</div>
<div class="ab" style="left:1199.0px;top:692.0px;width:10px;height:10px;border-radius:50%;background:#7DB7E6"></div>
<div class="t" style="left:1211.8px;top:690.7px;font-size:13.4px;">Below ROP,...</div>
</body></html>
